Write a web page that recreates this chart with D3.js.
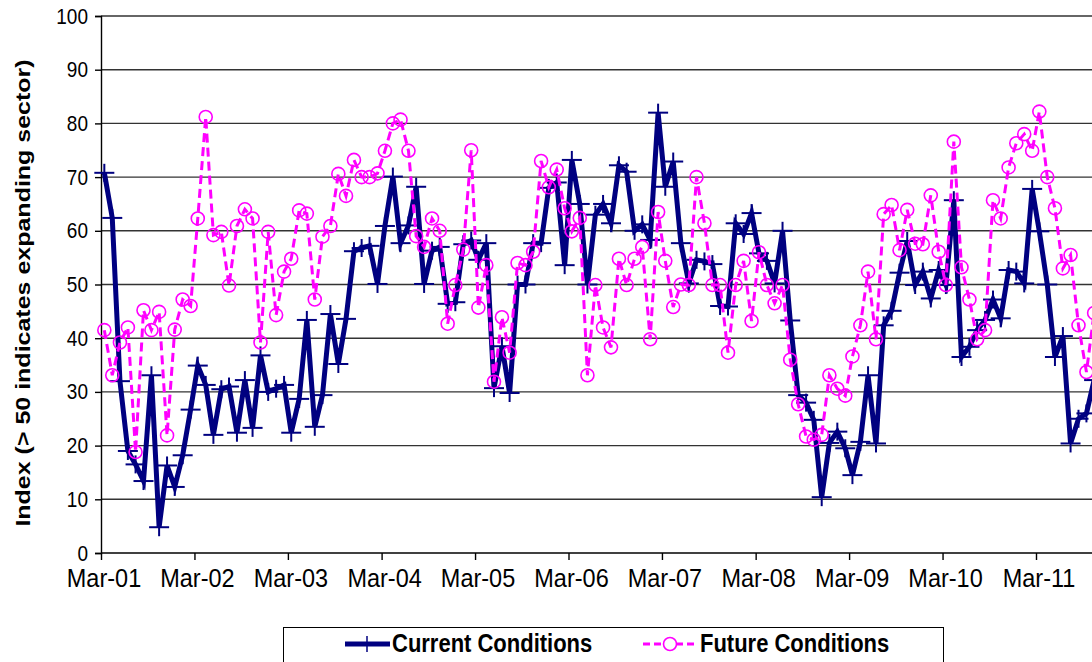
<!DOCTYPE html>
<html>
<head>
<meta charset="utf-8">
<script src="https://cdn.jsdelivr.net/npm/d3@7"></script>
<style>
  html, body { margin: 0; padding: 0; background: #fff; }
  svg { display: block; font-family: "Liberation Sans", Arial, sans-serif; }
</style>
</head>
<body>
<svg id="chart" width="1092" height="662"></svg>
<script>
// monthly survey index, first reading mid-March 2001
var currentConditions = [
  70.8, 62.4, 32.0, 19.0, 16.5, 13.4, 33.1, 4.8, 16.3, 12.3, 18.2, 26.7,
  34.9, 31.3, 22.0, 30.5, 31.0, 22.4, 32.2, 23.3, 36.8, 30.0, 30.6, 31.3,
  22.4, 28.7, 43.4, 23.5, 29.4, 44.5, 35.2, 43.6, 56.2, 56.8, 57.2, 50.1,
  60.9, 70.1, 57.7, 61.0, 68.2, 50.1, 56.3, 57.0, 46.4, 46.7, 57.5, 58.2,
  54.6, 57.7, 30.7, 38.5, 29.8, 50.0, 50.0, 57.7, 57.7, 68.0, 69.0, 53.6,
  73.2, 65.0, 50.0, 63.0, 65.0, 61.4, 72.2, 71.0, 60.0, 61.2, 58.3, 82.0,
  68.2, 72.9, 57.7, 50.2, 54.6, 54.3, 53.8, 46.0, 45.9, 61.4, 59.4, 63.3,
  55.8, 54.4, 50.2, 60.0, 43.3, 29.4, 28.0, 24.8, 10.4, 20.5, 22.6, 19.5,
  14.5, 20.7, 33.1, 20.4, 42.4, 45.1, 52.2, 58.1, 49.9, 52.4, 47.4, 52.7,
  49.9, 65.7, 36.5, 38.4, 41.5, 43.4, 47.2, 43.7, 52.7, 52.4, 50.2, 67.8,
  59.9, 50.0, 36.5, 40.4, 20.4, 25.0, 26.0, 32.2
];
var futureConditions = [
  41.5, 33.1, 39.2, 42.0, 18.8, 45.2, 41.5, 44.9, 21.9, 41.6, 47.2, 46.0,
  62.3, 81.2, 59.2, 59.8, 49.8, 60.9, 64.0, 62.3, 39.2, 59.8, 44.3, 52.4,
  54.8, 63.8, 63.2, 47.2, 58.9, 60.9, 70.6, 66.5, 73.2, 70.0, 70.0, 70.7,
  74.9, 80.0, 80.7, 74.9, 59.0, 57.0, 62.3, 60.0, 42.7, 49.9, 56.5, 75.0,
  45.7, 53.6, 31.9, 43.9, 37.3, 54.0, 53.6, 56.1, 73.0, 68.1, 71.4, 64.2,
  59.9, 62.4, 33.1, 49.9, 42.0, 38.3, 54.8, 49.9, 54.8, 57.0, 39.8, 63.5,
  54.4, 45.8, 50.0, 49.9, 70.0, 61.4, 49.9, 49.9, 37.3, 49.9, 54.4, 43.2,
  56.0, 49.9, 46.5, 49.9, 36.0, 27.7, 21.7, 21.1, 22.0, 33.1, 30.6, 29.3,
  36.6, 42.4, 52.4, 39.8, 63.1, 64.8, 56.4, 63.9, 57.6, 57.5, 66.6, 56.1,
  49.9, 76.6, 53.2, 47.2, 39.8, 41.5, 65.7, 62.3, 71.8, 76.3, 78.0, 74.9,
  82.2, 70.0, 64.2, 53.0, 55.5, 42.4, 33.7, 44.7
];
var tickYears = [2001, 2002, 2003, 2004, 2005, 2006, 2007, 2008, 2009, 2010, 2011];
var tickLabels = ['Mar-01', 'Mar-02', 'Mar-03', 'Mar-04', 'Mar-05', 'Mar-06',
                  'Mar-07', 'Mar-08', 'Mar-09', 'Mar-10', 'Mar-11'];
var yTicks = [0, 10, 20, 30, 40, 50, 60, 70, 80, 90, 100];
var seriesNames = ['Current Conditions', 'Future Conditions'];

(function () {
    'use strict';

    var NAVY = '#000080';
    var MAGENTA = '#ff00ff';

    var svg = d3.select('#chart');
    var start = new Date(2001, 2, 14);
    var dateOf = function (i) { return d3.timeMonth.offset(start, i); };

    var x = d3.scaleTime()
        .domain([new Date(2001, 2, 1), new Date(2011, 2, 1)])
        .range([101, 1036]);
    var y = d3.scaleLinear().domain([0, 100]).range([553, 16]);

    // the original picture was stretched a bit vertically, so text is too
    var tallText = function (parent, px, py, sy, size, str) {
        return parent.append('text')
            .attr('transform', 'translate(' + px + ',' + py + ') scale(1,' + sy + ')')
            .attr('font-size', size)
            .attr('fill', '#000')
            .text(str);
    };

    // grid lines
    svg.append('g')
        .selectAll('line')
        .data(yTicks.filter(function (v) { return v > 0; }))
        .enter()
        .append('line')
        .attr('x1', x.range()[0])
        .attr('x2', 1092)
        .attr('y1', function (d) { return y(d); })
        .attr('y2', function (d) { return y(d); })
        .attr('stroke', '#333')
        .attr('stroke-width', 1.4);

    // y axis
    var yAxis = svg.append('g')
        .attr('transform', 'translate(' + x.range()[0] + ',0)')
        .call(d3.axisLeft(y).tickValues(yTicks).tickSize(6).tickFormat(''));
    yAxis.select('.domain').attr('stroke', '#000').attr('stroke-width', 1.4);
    yAxis.selectAll('.tick line').attr('stroke', '#000').attr('stroke-width', 1.4);

    var yLabels = svg.append('g').attr('text-anchor', 'end');
    yTicks.forEach(function (v) {
        tallText(yLabels, 88, y(v) + 7.5, 1.15, '19px', String(v));
    });

    // x axis
    var tickDates = tickYears.map(function (yr) { return new Date(yr, 2, 1); });
    var xAxis = svg.append('g')
        .attr('transform', 'translate(0,' + y(0) + ')')
        .call(d3.axisBottom(x).tickValues(tickDates).tickSize(7).tickFormat(''));
    xAxis.select('.domain').remove();
    xAxis.selectAll('.tick line').attr('stroke', '#000').attr('stroke-width', 1.4);
    svg.append('line')
        .attr('x1', x.range()[0]).attr('x2', 1092)
        .attr('y1', y(0)).attr('y2', y(0))
        .attr('stroke', '#000').attr('stroke-width', 1.4);

    var xLabels = svg.append('g').attr('text-anchor', 'middle');
    tickDates.forEach(function (d, i) {
        tallText(xLabels, x(d) + 3, 587, 1.12, '23.5px', tickLabels[i]);
    });

    // y axis title
    svg.append('text')
        .attr('transform', 'translate(30,' + 293 + ') rotate(-90) scale(1.25,1)')
        .attr('text-anchor', 'middle')
        .attr('font-size', '20px')
        .attr('font-weight', 'bold')
        .text('Index (> 50 indicates expanding sector)');

    var line = function (values) {
        return d3.line()
            .x(function (d, i) { return x(dateOf(i)); })
            .y(function (d) { return y(d); })(values);
    };

    // current conditions
    svg.append('path')
        .attr('d', line(currentConditions))
        .attr('fill', 'none')
        .attr('stroke', NAVY)
        .attr('stroke-width', 5)
        .attr('stroke-linejoin', 'miter');

    var plus = svg.append('g')
        .selectAll('g')
        .data(currentConditions)
        .enter()
        .append('g')
        .attr('transform', function (d, i) {
            return 'translate(' + x(dateOf(i)) + ',' + y(d) + ')';
        });
    plus.append('line')
        .attr('x1', -10).attr('x2', 10)
        .attr('stroke', NAVY).attr('stroke-width', 2);
    plus.append('line')
        .attr('y1', -9).attr('y2', 9)
        .attr('stroke', NAVY).attr('stroke-width', 2);

    // future conditions
    svg.append('path')
        .attr('d', line(futureConditions))
        .attr('fill', 'none')
        .attr('stroke', MAGENTA)
        .attr('stroke-width', 3)
        .attr('stroke-dasharray', '9,5');

    svg.append('g')
        .selectAll('circle')
        .data(futureConditions)
        .enter()
        .append('circle')
        .attr('cx', function (d, i) { return x(dateOf(i)); })
        .attr('cy', function (d) { return y(d); })
        .attr('r', 6.5)
        .attr('fill', 'none')
        .attr('stroke', MAGENTA)
        .attr('stroke-width', 1.6);

    // legend
    var legend = svg.append('g');
    legend.append('rect')
        .attr('x', 283.5).attr('y', 627.5)
        .attr('width', 660).attr('height', 60)
        .attr('fill', '#fff')
        .attr('stroke', '#000')
        .attr('stroke-width', 1);

    legend.append('line')
        .attr('x1', 345).attr('x2', 390)
        .attr('y1', 644).attr('y2', 644)
        .attr('stroke', NAVY).attr('stroke-width', 5);
    legend.append('line')
        .attr('x1', 367).attr('x2', 367)
        .attr('y1', 636).attr('y2', 652)
        .attr('stroke', NAVY).attr('stroke-width', 1.5);
    tallText(legend, 392, 652, 1.2, '22px', seriesNames[0]).attr('font-weight', 'bold');

    legend.append('line')
        .attr('x1', 643).attr('x2', 698)
        .attr('y1', 644).attr('y2', 644)
        .attr('stroke', MAGENTA).attr('stroke-width', 3)
        .attr('stroke-dasharray', '7,4');
    legend.append('circle')
        .attr('cx', 670).attr('cy', 644).attr('r', 6.5)
        .attr('fill', '#fff')
        .attr('stroke', MAGENTA).attr('stroke-width', 1.6);
    tallText(legend, 700, 652, 1.2, '22px', seriesNames[1]).attr('font-weight', 'bold');
})();
</script>
</body>
</html>
